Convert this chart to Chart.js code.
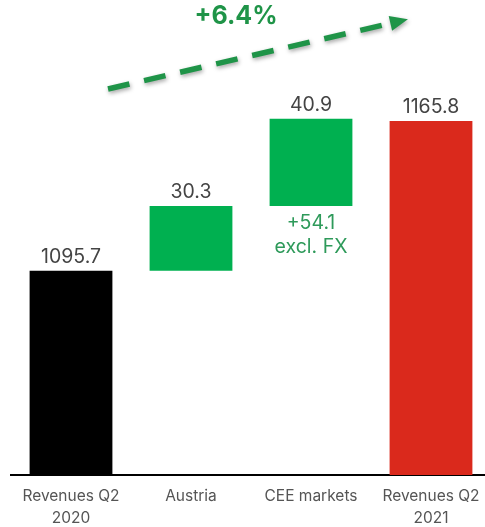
<!DOCTYPE html>
<html>
<head>
<meta charset="utf-8">
<script src="https://cdn.jsdelivr.net/npm/chart.js@4"></script>
<style>
  html, body { margin: 0; padding: 0; background: #fff; overflow: hidden; }
  #wrap { position: relative; width: 491px; height: 539px; }
</style>
</head>
<body>
<div id="wrap"><canvas id="chart"></canvas></div>
<script>
const categories = [['Revenues Q2', '2020'], 'Austria', 'CEE markets', ['Revenues Q2', '2021']];
const barStart = [1000, 1095.7, 1126.0, 1000];
const barEnd = [1095.7, 1126.0, 1166.9, 1165.8];
const valueLabels = ['1095.7', '30.3', '40.9', '1165.8'];
const barColors = ['#000000', '#00b050', '#00b050', '#da291c'];
const fxNote = ['+54.1', 'excl. FX'];
const growthLabel = '+6.4%';

const labelPlugin = {
    id: 'labels',
    afterDatasetsDraw(chart) {
        const ctx = chart.ctx;
        const bars = chart.getDatasetMeta(0).data;
        ctx.save();
        ctx.textAlign = 'center';
        ctx.textBaseline = 'alphabetic';
        ctx.font = '19.5px Inter';
        ctx.fillStyle = '#444444';
        bars.forEach((bar, i) => {
            ctx.fillText(valueLabels[i], bar.x, bar.y - 8);
        });

        // note under the CEE bar
        const cee = bars[2];
        ctx.fillStyle = '#2e9a5a';
        ctx.textBaseline = 'middle';
        ctx.fillText(fxNote[0], cee.x, cee.base + 17);
        ctx.fillText(fxNote[1], cee.x, cee.base + 41);

        // growth arrow
        const x1 = bars[0].x + 37, y1 = 89;
        const x2 = bars[3].x - 26, y2 = 20;
        const ang = Math.atan2(y2 - y1, x2 - x1);
        const c = Math.cos(ang), s = Math.sin(ang);
        ctx.shadowColor = 'rgba(0,0,0,0.35)';
        ctx.shadowBlur = 4;
        ctx.shadowOffsetX = 1;
        ctx.shadowOffsetY = 2;
        ctx.strokeStyle = '#1f9448';
        ctx.lineWidth = 5.5;
        ctx.setLineDash([22, 15]);
        ctx.beginPath();
        ctx.moveTo(x1, y1);
        ctx.lineTo(x2 - 14 * c, y2 - 14 * s);
        ctx.stroke();
        ctx.setLineDash([]);
        ctx.fillStyle = '#1f9448';
        ctx.beginPath();
        ctx.moveTo(x2 + 3 * c, y2 + 3 * s);
        ctx.lineTo(x2 - 15 * c + 7.5 * s, y2 - 15 * s - 7.5 * c);
        ctx.lineTo(x2 - 15 * c - 7.5 * s, y2 - 15 * s + 7.5 * c);
        ctx.closePath();
        ctx.fill();

        ctx.shadowColor = 'transparent';
        ctx.font = 'bold 25px Inter';
        ctx.fillStyle = '#1f9448';
        ctx.textBaseline = 'middle';
        ctx.fillText(growthLabel, 236, 16);
        ctx.restore();
    }
};

new Chart(document.getElementById('chart'), {
    type: 'bar',
    data: {
        labels: categories,
        datasets: [{
            data: barStart.map((s, i) => [s, barEnd[i]]),
            backgroundColor: barColors,
            borderWidth: 0,
            borderSkipped: false,
            barPercentage: 0.69,
            categoryPercentage: 1.0
        }]
    },
    options: {
        responsive: true,
        maintainAspectRatio: false,
        animation: false,
        layout: { padding: { left: 11, right: 0, top: 0, bottom: 0 } },
        plugins: { legend: { display: false }, tooltip: { enabled: false } },
        scales: {
            y: { display: false, min: 1000, max: 1222.5 },
            x: {
                grid: { display: false, drawTicks: false },
                border: { display: true, color: '#000000', width: 2 },
                ticks: {
                    color: '#555555',
                    font: { family: 'Inter', size: 15.5, lineHeight: '22px' },
                    padding: 10,
                    maxRotation: 0,
                    autoSkip: false
                }
            }
        }
    },
    plugins: [labelPlugin]
});
</script>
</body>
</html>
